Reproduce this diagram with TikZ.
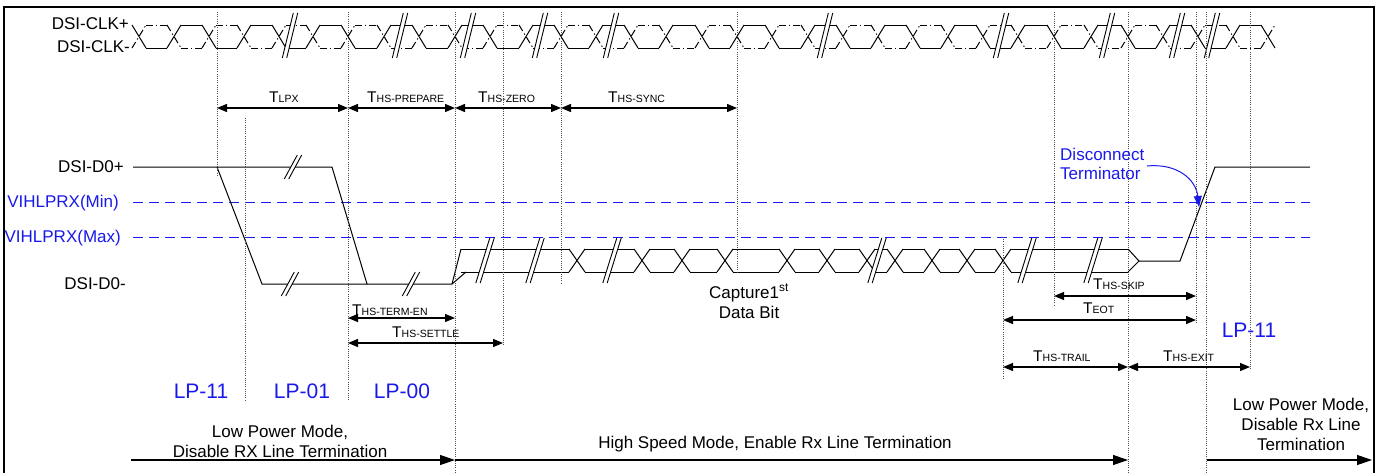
\documentclass[tikz,border=0pt]{standalone}
\usepackage{fontspec}
\setmainfont{Liberation Sans}
\usetikzlibrary{arrows.meta}
\definecolor{lblue}{RGB}{25,25,235}
\definecolor{dotgray}{RGB}{80,80,80}
\tikzset{
 wave/.style={line width=1pt, black},
 wavedd/.style={line width=1pt, black, dash pattern=on 7pt off 3pt on 1.2pt off 3pt},
 vline/.style={line width=0.8pt, dotgray, dash pattern=on 1pt off 1.2pt},
 thresh/.style={line width=1pt, lblue, dash pattern=on 10pt off 6pt},
 dimarr/.style={line width=1.3pt, {Triangle[length=10pt,width=8pt]}-{Triangle[length=10pt,width=8pt]}},
 modearr/.style={line width=1.1pt, -{Triangle[length=15pt,width=10pt]}},
 lbl/.style={font=\fontsize{17}{20}\selectfont, inner sep=0pt},
 blbl/.style={lbl, text=lblue},
 lplbl/.style={font=\fontsize{21}{25}\selectfont, text=lblue, inner sep=0pt, anchor=base},
 tlbl/.style={font=\fontsize{15.5}{18}\selectfont, inner sep=0pt, anchor=base west},
}
\newcommand{\Tsub}[1]{T{\fontsize{10.5}{12}\selectfont #1}}
\newcommand{\dimline}[4]{\coordinate (#1-a) at (#2,#4); \coordinate (#1-b) at (#3,#4); \draw[dimarr] (#1-a) -- (#1-b);}
\newcommand{\vdot}[4]{\coordinate (#1-t) at (#2,#3); \coordinate (#1-e) at (#2,#4); \draw[vline] (#1-t) -- (#1-e);}
\newcommand{\brk}[4]{%
 \fill[white] ({#1+#4-2.2},{#2-#3}) -- ({#1+#4+2.2},{#2-#3}) -- ({#1-#4+2.2},{#2+#3}) -- ({#1-#4-2.2},{#2+#3}) -- cycle;
 \draw[line width=0.9pt] ({#1+#4-2.2},{#2-#3}) -- ({#1-#4-2.2},{#2+#3});
 \draw[line width=0.9pt] ({#1+#4+2.2},{#2-#3}) -- ({#1-#4+2.2},{#2+#3});}
\begin{document}
\begin{tikzpicture}[x=1pt,y=-1pt]
\useasboundingbox (0,0) rectangle (1380,472);
\fill[white] (0,0) rectangle (1380,472);
\draw[line width=1.5pt] (4,7) rectangle (1374,480);

% ---------- clock ----------
\def\clklist{139,174,209,244,279,313,348,384,419,455,490,526,561,596,631,666,702,737,772,808,843,878,913,948,983,1018,1054,1091,1128,1163,1198,1233,1268}
\foreach \c [count=\i] in \clklist {
  \ifodd\i \def\ya{25}\def\yb{48}\else \def\ya{48}\def\yb{25}\fi
  \draw[wave] ({\c-7},\ya) -- ({\c+7},\yb);
  \draw[wavedd] ({\c-7},\yb) -- ({\c+7},\ya);
}
\foreach \c [count=\i, remember=\c as \p (initially 121)] in \clklist {
  \ifodd\i \def\ya{25}\def\yb{48}\else \def\ya{48}\def\yb{25}\fi
  \ifnum\i>1
    \draw[wave] ({\p+7},\ya) -- ({\c-7},\ya);
    \draw[wavedd] ({\p+7},\yb) -- ({\c-7},\yb);
  \fi
}
\foreach \b in {290,400,468,540,611,825,1001,1107,1177,1212} {\brk{\b}{35.5}{22.5}{5.5}}

% ---------- data lane ----------
\draw[thresh] (133,202) -- (1310,202);
\draw[thresh] (133,237) -- (1310,237);

\draw[wave] (133,167) -- (332,167) -- (367,284) -- (452,284);
\draw[wave] (217,167) -- (262,284) -- (367,284);
\draw[wave] (452,284) -- (461,249);
\draw[wave] (452,284) -- (466,272);
\def\hslist{577,642,682,725,787,827,867,895,932,967,1003}
\foreach \c in \hslist {
  \draw[wave] ({\c-8},249) -- ({\c+8},272);
  \draw[wave] ({\c-8},272) -- ({\c+8},249);
}
\foreach \c [remember=\c as \p (initially 453)] in {577,642,682,725,787,827,867,895,932,967,1003,1136} {
  \draw[wave] ({\p+8},249) -- ({\c-8},249);
  \draw[wave] ({\p+8},272) -- ({\c-8},272);
}
\draw[wave] (1128,249) -- (1139,261) -- (1128,272);
\draw[wave] (1139,261) -- (1180,261) -- (1215,167) -- (1310,167);

\brk{293}{167}{12}{6.5}
\brk{290}{284}{12}{6.5}
\brk{411}{284}{12}{6.5}
\foreach \b in {485,535,612,877,1027,1093} {\brk{\b}{260.5}{22.5}{7}}

% ---------- vertical dotted lines ----------
\vdot{v217}{217}{12}{177}
\vdot{v245}{245}{118}{400}
\vdot{v348}{348}{12}{400}
\vdot{v455}{455}{12}{472}
\vdot{v503}{503}{12}{346}
\vdot{v561}{561}{12}{283}
\vdot{v737}{737}{12}{273}
\vdot{v1003}{1003}{237}{378}
\vdot{v1054}{1054}{12}{306}
\vdot{v1128}{1128}{12}{472}
\vdot{v1196}{1196}{12}{323}
\vdot{v1206}{1206}{12}{472}
\vdot{v1250}{1250}{12}{370}

% ---------- signal labels ----------
\node[lbl, anchor=base east] (clkp) at (129,29) {DSI-CLK+};
\node[lbl, anchor=base east] (clkn) at (130,52) {DSI-CLK-};
\node[lbl, anchor=base east] (d0p) at (124,172) {DSI-D0+};
\node[lbl, anchor=base east] (d0n) at (126,289) {DSI-D0-};
\node[blbl, anchor=base east] (vmin) at (119,207) {VIHLPRX(Min)};
\node[blbl, anchor=base east] (vmax) at (121,242) {VIHLPRX(Max)};

% ---------- timing labels ----------
\node[tlbl] (tlpx) at (269,102) {\Tsub{LPX}};
\node[tlbl] (tprep) at (367,102) {\Tsub{HS-PREPARE}};
\node[tlbl] (tzero) at (478,102) {\Tsub{HS-ZERO}};
\node[tlbl] (tsync) at (608,102) {\Tsub{HS-SYNC}};
\node[tlbl] (tterm) at (352,315) {\Tsub{HS-TERM-EN}};
\node[tlbl] (tsettle) at (392,337) {\Tsub{HS-SETTLE}};
\node[tlbl] (tskip) at (1093,289) {\Tsub{HS-SKIP}};
\node[tlbl] (teot) at (1083,313) {\Tsub{EOT}};
\node[tlbl] (ttrail) at (1033,361) {\Tsub{HS-TRAIL}};
\node[tlbl] (texit) at (1163,361) {\Tsub{HS-EXIT}};

\dimline{alpx}{217}{348}{108}
\dimline{aprep}{348}{455}{108}
\dimline{azero}{455}{561}{108}
\dimline{async}{561}{737}{108}
\dimline{aterm}{348}{455}{318}
\dimline{asettle}{348}{503}{343}
\dimline{askip}{1054}{1196}{296}
\dimline{aeot}{1003}{1196}{320}
\dimline{atrail}{1003}{1128}{367}
\dimline{aexit}{1128}{1250}{367}

% ---------- annotations ----------
\node[lbl, anchor=base] (cap1) at (749,298) {Capture1\textsuperscript{st}};
\node[lbl, anchor=base] (cap2) at (749,318) {Data Bit};

\node[blbl, anchor=base west] (disc1) at (1060,160) {Disconnect};
\node[blbl, anchor=base west] (disc2) at (1060,179) {Terminator};
\coordinate (discS) at (1147,166);
\coordinate (discE) at (1199,207);
\draw[lblue, line width=1pt, -{Triangle[length=11pt,width=8pt]}] (discS) .. controls (1178,163) and (1196,180) .. (discE);

\node[lplbl] (lp11a) at (201,398) {LP-11};
\node[lplbl] (lp01) at (302,398) {LP-01};
\node[lplbl] (lp00) at (402,398) {LP-00};
\node[lplbl] (lp11b) at (1249,337) {LP-11};

% ---------- mode arrows ----------
\node[lbl, anchor=base] (lpm1) at (280,437) {Low Power Mode,};
\node[lbl, anchor=base] (lpm2) at (280,457) {Disable RX Line Termination};
\node[lbl, anchor=base] (hsm) at (775,448) {High Speed Mode, Enable Rx Line Termination};
\node[lbl, anchor=base] (rpm1) at (1301,410) {Low Power Mode,};
\node[lbl, anchor=base] (rpm2) at (1301,430) {Disable Rx Line};
\node[lbl, anchor=base] (rpm3) at (1301,450) {Termination};

\coordinate (m0) at (131,460);
\coordinate (m1) at (455,460);
\coordinate (m2) at (1128,460);
\coordinate (m3) at (1207,460);
\coordinate (m4) at (1372,460);
\draw[modearr] (m0) -- (m1);
\draw[modearr] (m1) -- (m2);
\draw[modearr] (m3) -- (m4);
\end{tikzpicture}
\end{document}
